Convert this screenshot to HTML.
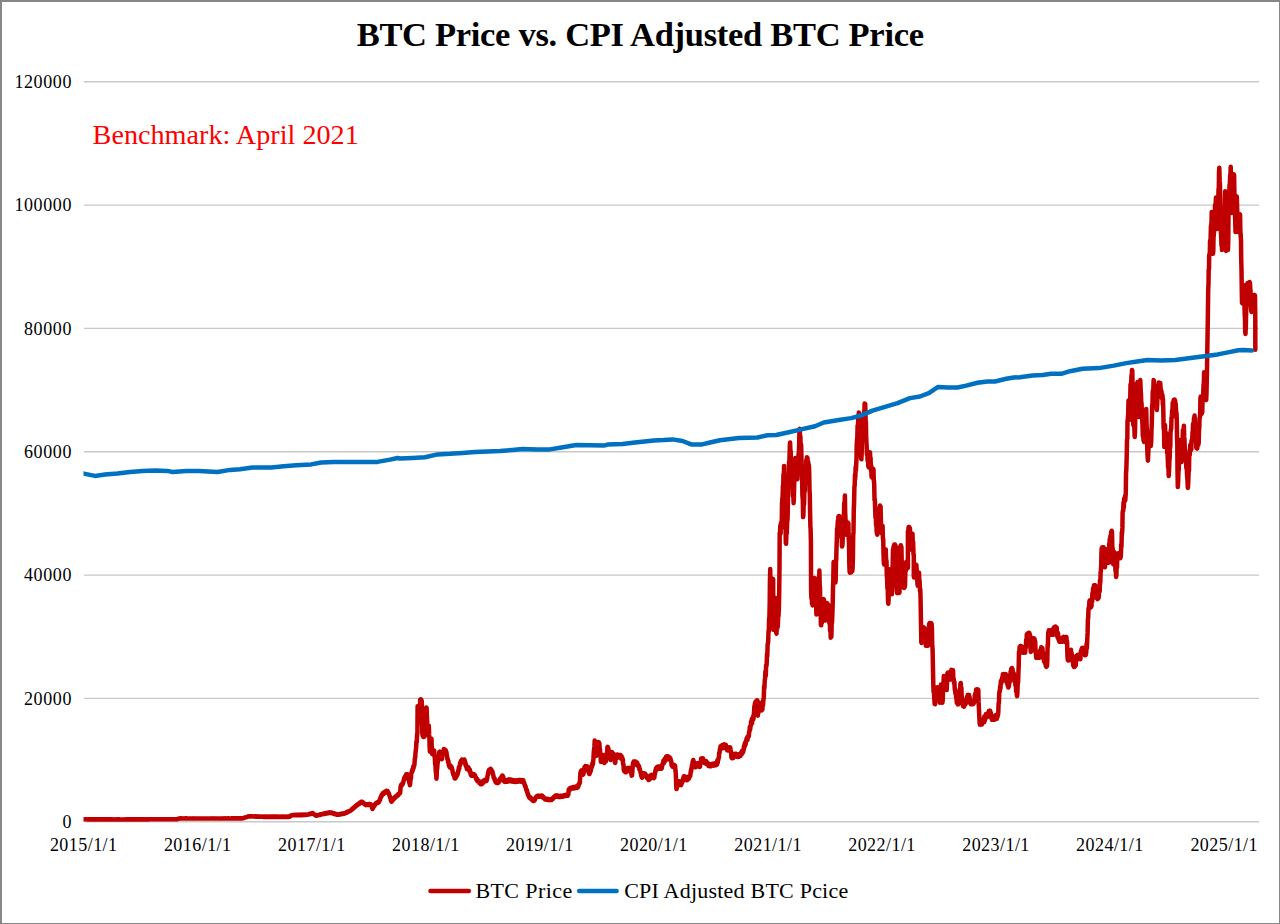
<!DOCTYPE html>
<html><head><meta charset="utf-8"><title>BTC Price vs. CPI Adjusted BTC Price</title>
<style>
html,body{margin:0;padding:0;background:#fff;}
body{width:1280px;height:924px;position:relative;overflow:hidden;font-family:"Liberation Serif",serif;}
.frame{position:absolute;left:0;top:0;width:1277px;height:921px;border-style:solid;border-color:#878787;border-width:2px 1px 1px 2px;}
</style></head><body>
<svg width="1280" height="924" viewBox="0 0 1280 924" style="position:absolute;left:0;top:0"><line x1="84" y1="81.75" x2="1259" y2="81.75" stroke="#c8c8c8" stroke-width="1.3"/><line x1="84" y1="205.08" x2="1259" y2="205.08" stroke="#c8c8c8" stroke-width="1.3"/><line x1="84" y1="328.42" x2="1259" y2="328.42" stroke="#c8c8c8" stroke-width="1.3"/><line x1="84" y1="451.75" x2="1259" y2="451.75" stroke="#c8c8c8" stroke-width="1.3"/><line x1="84" y1="575.08" x2="1259" y2="575.08" stroke="#c8c8c8" stroke-width="1.3"/><line x1="84" y1="698.42" x2="1259" y2="698.42" stroke="#c8c8c8" stroke-width="1.3"/><line x1="84" y1="821.75" x2="1259" y2="821.75" stroke="#c8c8c8" stroke-width="1.3"/><g font-family="Liberation Serif" font-size="18" fill="#000"><text x="72.0" y="87.8" text-anchor="end" letter-spacing="0.6">120000</text><text x="72.0" y="211.1" text-anchor="end" letter-spacing="0.6">100000</text><text x="72.0" y="334.5" text-anchor="end" letter-spacing="0.6">80000</text><text x="72.0" y="457.8" text-anchor="end" letter-spacing="0.6">60000</text><text x="72.0" y="581.1" text-anchor="end" letter-spacing="0.6">40000</text><text x="72.0" y="704.5" text-anchor="end" letter-spacing="0.6">20000</text><text x="72.0" y="827.8" text-anchor="end" letter-spacing="0.6">0</text><text x="83.7" y="851.3" text-anchor="middle" letter-spacing="0.45">2015/1/1</text><text x="197.7" y="851.3" text-anchor="middle" letter-spacing="0.45">2016/1/1</text><text x="311.9" y="851.3" text-anchor="middle" letter-spacing="0.45">2017/1/1</text><text x="425.9" y="851.3" text-anchor="middle" letter-spacing="0.45">2018/1/1</text><text x="539.8" y="851.3" text-anchor="middle" letter-spacing="0.45">2019/1/1</text><text x="653.8" y="851.3" text-anchor="middle" letter-spacing="0.45">2020/1/1</text><text x="768.1" y="851.3" text-anchor="middle" letter-spacing="0.45">2021/1/1</text><text x="882.0" y="851.3" text-anchor="middle" letter-spacing="0.45">2022/1/1</text><text x="996.0" y="851.3" text-anchor="middle" letter-spacing="0.45">2023/1/1</text><text x="1109.9" y="851.3" text-anchor="middle" letter-spacing="0.45">2024/1/1</text><text x="1224.2" y="851.3" text-anchor="middle" letter-spacing="0.45">2025/1/1</text></g><defs><clipPath id="pa"><rect x="83.5" y="60" width="1190" height="800"/></clipPath></defs><g clip-path="url(#pa)"><path d="M82.0,819.3 L82.3,819.3 L82.6,819.3 L82.9,819.4 L83.2,819.3 L83.6,819.3 L83.9,819.3 L84.2,819.3 L84.5,819.3 L84.8,819.3 L85.1,819.3 L85.4,819.3 L85.7,819.3 L86.0,819.3 L86.4,819.3 L86.7,819.3 L87.0,819.3 L87.3,819.4 L87.6,819.3 L87.9,819.4 L88.2,819.3 L88.5,819.4 L88.9,819.3 L89.2,819.4 L89.5,819.3 L89.8,819.3 L90.1,819.3 L90.4,819.4 L90.7,819.3 L91.0,819.4 L91.3,819.3 L91.7,819.4 L92.0,819.3 L92.3,819.4 L92.6,819.3 L92.9,819.4 L93.2,819.3 L93.5,819.4 L93.8,819.3 L94.1,819.4 L94.5,819.3 L94.8,819.4 L95.1,819.3 L95.4,819.4 L95.7,819.3 L96.0,819.4 L96.3,819.3 L96.6,819.4 L97.0,819.3 L97.3,819.4 L97.6,819.3 L97.9,819.4 L98.2,819.3 L98.5,819.4 L98.8,819.3 L99.1,819.4 L99.4,819.3 L99.8,819.4 L100.1,819.3 L100.4,819.4 L100.7,819.3 L101.0,819.4 L101.3,819.3 L101.6,819.4 L101.9,819.3 L102.2,819.4 L102.6,819.3 L102.9,819.4 L103.2,819.3 L103.5,819.4 L103.8,819.3 L104.1,819.4 L104.4,819.3 L104.7,819.4 L105.0,819.3 L105.4,819.4 L105.7,819.3 L106.0,819.4 L106.3,819.3 L106.6,819.4 L106.9,819.3 L107.2,819.4 L107.5,819.3 L107.9,819.4 L108.2,819.3 L108.5,819.4 L108.8,819.3 L109.1,819.4 L109.4,819.3 L109.7,819.4 L110.0,819.3 L110.3,819.4 L110.7,819.3 L111.0,819.4 L111.3,819.3 L111.6,819.4 L111.9,819.3 L112.2,819.4 L112.5,819.3 L112.8,819.4 L113.1,819.4 L113.5,819.4 L113.8,819.4 L114.1,819.4 L114.4,819.3 L114.7,819.4 L115.0,819.4 L115.3,819.4 L115.6,819.4 L116.0,819.4 L116.3,819.3 L116.6,819.4 L116.9,819.3 L117.2,819.4 L117.5,819.3 L117.8,819.4 L118.1,819.4 L118.4,819.4 L118.8,819.3 L119.1,819.4 L119.4,819.3 L119.7,819.4 L120.0,819.4 L120.3,819.4 L120.6,819.4 L120.9,819.4 L121.2,819.4 L121.6,819.4 L121.9,819.4 L122.2,819.4 L122.5,819.4 L122.8,819.4 L123.1,819.4 L123.4,819.4 L123.8,819.4 L124.1,819.4 L124.4,819.4 L124.7,819.4 L125.0,819.3 L125.3,819.4 L125.6,819.4 L125.9,819.4 L126.2,819.3 L126.6,819.4 L126.9,819.3 L127.2,819.4 L127.5,819.3 L127.8,819.4 L128.1,819.3 L128.4,819.4 L128.8,819.3 L129.1,819.4 L129.4,819.3 L129.7,819.4 L130.0,819.3 L130.3,819.4 L130.6,819.3 L130.9,819.4 L131.2,819.3 L131.6,819.4 L131.9,819.3 L132.2,819.4 L132.5,819.3 L132.8,819.4 L133.1,819.3 L133.4,819.4 L133.8,819.3 L134.1,819.4 L134.4,819.3 L134.7,819.4 L135.0,819.3 L135.3,819.4 L135.6,819.3 L135.9,819.4 L136.2,819.3 L136.6,819.4 L136.9,819.3 L137.2,819.4 L137.5,819.3 L137.8,819.4 L138.1,819.3 L138.4,819.4 L138.8,819.3 L139.1,819.4 L139.4,819.3 L139.7,819.4 L140.0,819.3 L140.3,819.4 L140.6,819.3 L140.9,819.4 L141.2,819.3 L141.6,819.4 L141.9,819.3 L142.2,819.4 L142.5,819.3 L142.8,819.4 L143.1,819.3 L143.4,819.4 L143.8,819.3 L144.1,819.4 L144.4,819.3 L144.7,819.4 L145.0,819.3 L145.3,819.4 L145.6,819.3 L145.9,819.4 L146.2,819.3 L146.6,819.4 L146.9,819.3 L147.2,819.4 L147.5,819.3 L147.8,819.4 L148.1,819.3 L148.4,819.3 L148.8,819.3 L149.1,819.4 L149.4,819.3 L149.7,819.3 L150.0,819.3 L150.3,819.3 L150.6,819.3 L150.9,819.3 L151.3,819.2 L151.6,819.3 L151.9,819.2 L152.2,819.3 L152.5,819.2 L152.8,819.3 L153.1,819.2 L153.5,819.3 L153.8,819.3 L154.1,819.3 L154.4,819.2 L154.7,819.3 L155.0,819.2 L155.3,819.3 L155.7,819.2 L156.0,819.3 L156.3,819.2 L156.6,819.3 L156.9,819.2 L157.2,819.3 L157.5,819.2 L157.8,819.3 L158.2,819.2 L158.5,819.3 L158.8,819.2 L159.1,819.3 L159.4,819.2 L159.7,819.3 L160.0,819.2 L160.4,819.3 L160.7,819.2 L161.0,819.3 L161.3,819.2 L161.6,819.3 L161.9,819.2 L162.2,819.3 L162.6,819.2 L162.9,819.3 L163.2,819.2 L163.5,819.3 L163.8,819.2 L164.1,819.3 L164.4,819.2 L164.8,819.3 L165.1,819.2 L165.4,819.3 L165.7,819.2 L166.0,819.3 L166.3,819.2 L166.6,819.3 L167.0,819.2 L167.3,819.3 L167.6,819.2 L167.9,819.3 L168.2,819.2 L168.5,819.3 L168.8,819.2 L169.2,819.3 L169.5,819.2 L169.8,819.3 L170.1,819.2 L170.4,819.3 L170.7,819.2 L171.0,819.3 L171.3,819.2 L171.7,819.3 L172.0,819.2 L172.3,819.3 L172.6,819.2 L172.9,819.3 L173.2,819.2 L173.5,819.3 L173.9,819.2 L174.2,819.2 L174.5,819.2 L174.8,819.2 L175.1,819.2 L175.4,819.2 L175.7,819.2 L176.1,819.3 L176.4,819.2 L176.7,819.2 L177.0,819.2 L177.3,819.2 L177.6,818.9 L177.9,818.9 L178.2,818.7 L178.6,818.8 L178.9,818.6 L179.2,818.6 L179.5,818.4 L179.8,818.5 L180.1,818.3 L180.4,818.5 L180.8,818.3 L181.1,818.4 L181.4,818.3 L181.7,818.5 L182.0,818.4 L182.3,818.4 L182.7,818.4 L183.0,818.5 L183.3,818.4 L183.6,818.5 L183.9,818.3 L184.2,818.4 L184.5,818.4 L184.9,818.5 L185.2,818.3 L185.5,818.4 L185.8,818.3 L186.1,818.5 L186.4,818.3 L186.8,818.4 L187.1,818.4 L187.4,818.4 L187.7,818.4 L188.0,818.5 L188.3,818.4 L188.6,818.5 L189.0,818.4 L189.3,818.5 L189.6,818.4 L189.9,818.5 L190.2,818.4 L190.5,818.5 L190.9,818.4 L191.2,818.5 L191.5,818.4 L191.8,818.5 L192.1,818.4 L192.4,818.5 L192.7,818.5 L193.1,818.6 L193.4,818.4 L193.7,818.6 L194.0,818.5 L194.3,818.6 L194.6,818.5 L195.0,818.6 L195.3,818.5 L195.6,818.6 L195.9,818.5 L196.2,818.6 L196.5,818.5 L196.8,818.6 L197.2,818.5 L197.5,818.6 L197.8,818.5 L198.1,818.6 L198.4,818.5 L198.7,818.6 L199.1,818.5 L199.4,818.6 L199.7,818.5 L200.0,818.6 L200.3,818.6 L200.6,818.5 L200.9,818.6 L201.2,818.5 L201.6,818.6 L201.9,818.5 L202.2,818.6 L202.5,818.5 L202.8,818.6 L203.1,818.5 L203.4,818.6 L203.7,818.5 L204.1,818.6 L204.4,818.5 L204.7,818.6 L205.0,818.5 L205.3,818.6 L205.6,818.5 L205.9,818.6 L206.2,818.5 L206.5,818.6 L206.9,818.5 L207.2,818.6 L207.5,818.5 L207.8,818.6 L208.1,818.5 L208.4,818.6 L208.7,818.5 L209.0,818.6 L209.4,818.5 L209.7,818.6 L210.0,818.5 L210.3,818.6 L210.6,818.5 L210.9,818.6 L211.2,818.4 L211.5,818.6 L211.8,818.5 L212.2,818.6 L212.5,818.5 L212.8,818.6 L213.1,818.5 L213.4,818.6 L213.7,818.5 L214.0,818.6 L214.3,818.4 L214.6,818.6 L215.0,818.5 L215.3,818.6 L215.6,818.4 L215.9,818.5 L216.2,818.5 L216.5,818.5 L216.8,818.4 L217.1,818.5 L217.5,818.4 L217.8,818.5 L218.1,818.4 L218.4,818.5 L218.7,818.4 L219.0,818.5 L219.3,818.4 L219.6,818.5 L219.9,818.4 L220.3,818.5 L220.6,818.4 L220.9,818.5 L221.2,818.4 L221.5,818.5 L221.8,818.4 L222.1,818.5 L222.4,818.4 L222.8,818.5 L223.1,818.3 L223.4,818.5 L223.7,818.4 L224.0,818.5 L224.3,818.4 L224.6,818.5 L224.9,818.3 L225.2,818.5 L225.6,818.3 L225.9,818.5 L226.2,818.4 L226.5,818.5 L226.8,818.4 L227.1,818.5 L227.4,818.3 L227.7,818.5 L228.1,818.3 L228.4,818.5 L228.7,818.3 L229.0,818.5 L229.3,818.4 L229.6,818.4 L229.9,818.4 L230.2,818.4 L230.5,818.4 L230.9,818.5 L231.2,818.3 L231.5,818.4 L231.8,818.3 L232.1,818.4 L232.4,818.3 L232.7,818.4 L233.0,818.3 L233.3,818.4 L233.7,818.3 L234.0,818.4 L234.3,818.3 L234.6,818.4 L234.9,818.3 L235.2,818.4 L235.5,818.3 L235.8,818.4 L236.2,818.3 L236.5,818.4 L236.8,818.3 L237.1,818.4 L237.4,818.3 L237.7,818.4 L238.0,818.3 L238.3,818.4 L238.6,818.3 L239.0,818.4 L239.3,818.3 L239.6,818.4 L239.9,818.3 L240.2,818.4 L240.5,818.3 L240.8,818.4 L241.1,818.3 L241.5,818.3 L241.8,818.3 L242.1,818.4 L242.4,818.3 L242.7,818.3 L243.0,818.3 L243.3,818.0 L243.6,818.1 L243.9,817.8 L244.2,817.9 L244.5,817.6 L244.8,817.6 L245.1,817.4 L245.4,817.5 L245.8,817.2 L246.1,817.3 L246.4,817.1 L246.7,817.1 L247.0,816.8 L247.3,816.9 L247.6,816.6 L247.9,816.7 L248.2,816.4 L248.5,816.5 L248.8,816.3 L249.1,816.4 L249.4,816.3 L249.7,816.4 L250.1,816.3 L250.4,816.5 L250.7,816.3 L251.0,816.5 L251.3,816.3 L251.6,816.5 L252.0,816.3 L252.3,816.5 L252.6,816.3 L252.9,816.5 L253.2,816.4 L253.5,816.5 L253.8,816.4 L254.2,816.6 L254.5,816.4 L254.8,816.6 L255.1,816.4 L255.4,816.6 L255.7,816.4 L256.1,816.6 L256.4,816.4 L256.7,816.7 L257.0,816.5 L257.3,816.7 L257.6,816.5 L258.0,816.8 L258.3,816.6 L258.6,816.7 L258.9,816.6 L259.2,816.8 L259.5,816.6 L259.8,816.8 L260.2,816.6 L260.5,816.8 L260.8,816.7 L261.1,816.8 L261.4,816.6 L261.7,816.8 L262.1,816.6 L262.4,816.8 L262.7,816.7 L263.0,816.8 L263.3,816.9 L263.6,816.7 L263.9,816.9 L264.2,816.7 L264.6,816.9 L264.9,816.7 L265.2,816.9 L265.5,816.7 L265.8,816.9 L266.1,816.7 L266.4,816.9 L266.7,816.8 L267.0,816.9 L267.3,816.7 L267.7,816.9 L268.0,816.7 L268.3,816.9 L268.6,816.8 L268.9,816.9 L269.2,816.7 L269.5,816.9 L269.8,816.7 L270.1,816.9 L270.5,816.7 L270.8,816.9 L271.1,816.7 L271.4,816.9 L271.7,816.7 L272.0,816.9 L272.3,816.7 L272.6,816.9 L272.9,816.7 L273.2,816.9 L273.6,816.7 L273.9,816.9 L274.2,816.7 L274.5,816.9 L274.8,816.7 L275.1,816.9 L275.4,816.7 L275.7,816.9 L276.0,816.7 L276.4,816.9 L276.7,816.7 L277.0,816.9 L277.3,816.7 L277.6,816.9 L277.9,816.7 L278.2,816.9 L278.5,816.7 L278.8,816.9 L279.2,816.7 L279.5,816.9 L279.8,816.7 L280.1,816.8 L280.4,816.7 L280.7,816.9 L281.0,816.7 L281.3,816.9 L281.6,816.7 L281.9,816.9 L282.3,816.7 L282.6,816.9 L282.9,816.7 L283.2,816.9 L283.5,816.7 L283.8,816.9 L284.1,816.7 L284.4,816.9 L284.7,816.8 L285.1,816.8 L285.4,816.7 L285.7,816.9 L286.0,816.7 L286.3,816.9 L286.6,816.8 L286.9,816.9 L287.2,816.7 L287.5,816.9 L287.8,816.7 L288.2,816.9 L288.5,816.7 L288.8,816.9 L289.1,816.7 L289.4,816.8 L289.7,816.6 L290.1,816.1 L290.4,816.2 L290.7,815.6 L291.1,815.6 L291.4,815.2 L291.7,815.2 L292.0,815.1 L292.3,815.2 L292.7,815.1 L293.0,815.2 L293.3,815.1 L293.6,815.2 L293.9,815.0 L294.2,815.2 L294.5,815.0 L294.8,815.2 L295.2,814.9 L295.5,815.2 L295.8,815.0 L296.1,815.1 L296.4,814.9 L296.7,815.2 L297.0,814.9 L297.4,815.1 L297.7,814.9 L298.0,815.1 L298.3,814.9 L298.6,815.1 L298.9,814.8 L299.2,815.1 L299.5,814.8 L299.9,815.1 L300.2,814.8 L300.5,815.0 L300.8,814.7 L301.1,815.1 L301.4,814.8 L301.7,814.9 L302.1,814.7 L302.4,815.0 L302.7,814.7 L303.0,814.9 L303.3,814.7 L303.6,815.0 L303.9,814.7 L304.3,814.9 L304.6,814.7 L304.9,814.9 L305.2,814.7 L305.5,814.9 L305.8,814.7 L306.1,814.9 L306.4,814.7 L306.8,814.8 L307.1,814.7 L307.4,814.8 L307.7,814.7 L308.0,814.7 L308.3,814.4 L308.6,814.5 L308.9,814.1 L309.3,814.3 L309.6,813.9 L309.9,814.2 L310.2,813.9 L310.5,814.0 L310.8,813.6 L311.1,813.8 L311.4,813.3 L311.8,813.6 L312.1,813.2 L312.4,813.4 L312.7,813.2 L313.0,813.7 L313.3,813.6 L313.6,814.0 L313.9,814.1 L314.2,814.6 L314.6,814.5 L314.9,815.1 L315.2,815.0 L315.5,815.6 L315.8,815.7 L316.1,815.7 L316.4,815.5 L316.7,815.6 L317.0,815.2 L317.3,815.5 L317.6,815.2 L317.9,815.3 L318.2,815.0 L318.5,815.1 L318.9,814.8 L319.2,815.0 L319.5,814.7 L319.8,814.8 L320.1,814.5 L320.4,814.8 L320.7,814.4 L321.0,814.6 L321.3,814.3 L321.6,814.4 L321.9,814.2 L322.2,814.2 L322.5,813.9 L322.8,814.2 L323.1,813.9 L323.4,814.0 L323.7,813.7 L324.0,814.0 L324.4,813.6 L324.7,813.8 L325.0,813.4 L325.3,813.6 L325.6,813.3 L325.9,813.6 L326.2,813.1 L326.5,813.4 L326.8,813.1 L327.1,813.3 L327.4,812.9 L327.7,813.2 L328.0,812.8 L328.4,813.2 L328.7,812.7 L329.0,812.9 L329.3,812.5 L329.6,812.9 L329.9,812.5 L330.2,812.8 L330.5,812.5 L330.8,812.7 L331.1,812.6 L331.4,812.9 L331.8,812.7 L332.1,813.2 L332.4,812.9 L332.7,813.4 L333.0,813.2 L333.3,813.5 L333.6,813.3 L333.9,813.8 L334.3,813.4 L334.6,813.9 L334.9,813.7 L335.2,814.1 L335.5,813.9 L335.8,814.3 L336.1,814.1 L336.4,814.5 L336.8,814.2 L337.1,814.7 L337.4,814.4 L337.7,814.7 L338.0,814.7 L338.3,814.5 L338.7,814.6 L339.0,814.3 L339.3,814.6 L339.6,814.3 L339.9,814.4 L340.2,814.0 L340.6,814.3 L340.9,814.0 L341.2,814.1 L341.5,813.8 L341.8,814.0 L342.1,813.6 L342.5,814.0 L342.8,813.5 L343.1,813.8 L343.4,813.5 L343.7,813.6 L344.0,813.3 L344.4,813.6 L344.7,813.3 L345.0,813.3 L345.3,813.3 L345.6,812.8 L345.9,813.0 L346.2,812.5 L346.5,812.8 L346.8,812.1 L347.1,812.4 L347.4,812.0 L347.7,812.2 L348.1,811.6 L348.4,811.8 L348.7,811.3 L349.0,811.6 L349.3,811.0 L349.6,811.2 L349.9,810.7 L350.2,810.8 L350.5,810.4 L350.8,810.4 L351.1,810.4 L351.4,809.7 L351.8,809.8 L352.1,808.9 L352.4,809.3 L352.7,808.6 L353.0,808.8 L353.4,807.9 L353.7,808.3 L354.0,807.5 L354.3,807.6 L354.6,806.7 L354.9,807.2 L355.3,806.1 L355.6,806.4 L355.9,806.0 L356.2,806.0 L356.5,805.4 L356.8,805.5 L357.1,804.6 L357.4,805.2 L357.7,804.2 L358.0,804.7 L358.3,803.7 L358.6,804.3 L359.0,803.5 L359.3,804.0 L359.6,802.8 L359.9,803.3 L360.2,802.4 L360.5,803.0 L360.8,802.1 L361.1,802.5 L361.4,801.7 L361.7,801.7 L362.0,802.2 L362.3,801.9 L362.6,802.8 L362.9,802.2 L363.2,803.2 L363.5,803.0 L363.8,803.7 L364.1,803.2 L364.4,804.1 L364.7,803.8 L365.0,804.6 L365.3,804.6 L365.6,805.0 L365.9,804.3 L366.2,804.8 L366.5,804.4 L366.8,804.9 L367.1,804.3 L367.4,805.0 L367.7,804.4 L368.0,804.8 L368.4,804.2 L368.7,804.9 L369.0,804.3 L369.3,804.9 L369.6,804.2 L369.9,804.9 L370.2,804.2 L370.5,804.9 L370.8,804.3 L371.1,804.6 L371.5,806.1 L371.8,806.3 L372.1,808.1 L372.5,808.9 L372.8,808.5 L373.1,807.4 L373.5,807.4 L373.8,806.5 L374.1,806.5 L374.4,805.2 L374.8,805.4 L375.1,804.1 L375.4,803.8 L375.7,803.9 L376.0,803.1 L376.3,803.5 L376.6,802.9 L376.9,803.3 L377.2,802.3 L377.6,803.1 L377.9,802.2 L378.2,802.7 L378.5,801.7 L378.8,802.3 L379.1,801.7 L379.4,801.1 L379.7,799.8 L380.1,799.7 L380.4,797.8 L380.7,797.9 L381.0,796.4 L381.4,796.7 L381.7,794.4 L382.0,794.4 L382.3,794.5 L382.6,793.6 L382.9,794.5 L383.2,792.7 L383.6,793.8 L383.9,792.8 L384.2,793.6 L384.5,792.1 L384.8,793.2 L385.1,791.5 L385.4,792.7 L385.8,791.3 L386.1,792.2 L386.4,790.8 L386.7,791.6 L387.0,790.8 L387.3,792.1 L387.6,791.0 L387.9,792.7 L388.3,792.5 L388.6,793.9 L388.9,793.3 L389.2,794.4 L389.5,795.9 L389.8,796.2 L390.1,797.9 L390.5,798.0 L390.8,800.2 L391.1,800.5 L391.4,801.7 L391.7,801.7 L392.0,800.4 L392.4,800.7 L392.7,799.5 L393.0,799.9 L393.3,798.8 L393.7,799.3 L394.0,797.9 L394.3,798.0 L394.6,798.1 L394.9,797.0 L395.2,797.7 L395.5,796.5 L395.8,797.3 L396.1,796.0 L396.4,796.6 L396.7,795.7 L397.0,796.2 L397.4,794.9 L397.7,795.5 L398.0,794.2 L398.3,795.3 L398.6,793.8 L398.9,794.4 L399.2,793.3 L399.5,793.8 L399.8,792.9 L400.1,793.0 L400.4,790.3 L400.6,786.4 L400.9,786.3 L401.2,784.8 L401.5,785.8 L401.8,784.2 L402.1,785.0 L402.4,783.3 L402.7,784.2 L403.0,782.8 L403.3,782.8 L403.7,779.9 L404.0,780.1 L404.3,777.8 L404.7,778.4 L405.0,776.6 L405.3,776.8 L405.6,775.6 L405.9,776.8 L406.2,774.2 L406.5,776.5 L406.8,774.2 L407.1,775.5 L407.4,774.2 L407.7,774.4 L408.0,776.8 L408.3,776.2 L408.6,780.2 L409.0,780.1 L409.3,783.1 L409.6,782.6 L409.9,785.2 L410.2,783.0 L410.5,779.4 L410.9,778.6 L411.2,774.3 L411.5,772.3 L411.8,772.5 L412.1,770.1 L412.4,771.5 L412.7,768.8 L413.0,769.7 L413.3,766.5 L413.6,768.0 L413.9,765.7 L414.2,765.8 L414.5,763.9 L414.8,758.8 L415.2,757.3 L415.5,752.8 L415.8,750.6 L416.1,748.1 L416.4,741.4 L416.8,742.1 L417.1,734.4 L417.4,733.3 L417.6,706.2 L417.9,710.9 L418.2,709.9 L418.5,717.2 L418.8,717.2 L419.1,722.5 L419.4,719.1 L419.6,709.3 L419.9,708.6 L420.2,699.7 L420.5,702.4 L420.8,699.2 L421.2,702.4 L421.5,700.1 L421.8,701.9 L422.1,720.7 L422.3,733.3 L422.6,735.7 L422.9,732.9 L423.2,736.9 L423.6,733.9 L423.9,736.9 L424.2,734.2 L424.5,736.5 L424.8,728.4 L425.0,717.1 L425.3,717.6 L425.6,711.4 L426.0,713.0 L426.3,707.4 L426.6,707.9 L426.9,715.9 L427.1,719.1 L427.4,729.9 L427.7,735.5 L428.0,735.0 L428.2,727.9 L428.5,730.1 L428.8,725.7 L429.1,734.2 L429.4,737.4 L429.6,745.9 L429.9,751.7 L430.2,749.8 L430.5,745.6 L430.9,745.6 L431.2,739.9 L431.5,738.7 L431.8,747.8 L432.1,753.9 L432.4,754.2 L432.7,752.2 L433.0,753.4 L433.3,750.4 L433.6,752.2 L433.9,750.4 L434.2,750.6 L434.5,755.7 L434.8,757.9 L435.1,763.6 L435.5,765.9 L435.8,771.8 L436.1,773.7 L436.4,778.7 L436.7,775.5 L436.9,770.0 L437.2,768.4 L437.5,763.6 L437.8,762.6 L438.1,758.4 L438.4,759.4 L438.7,756.0 L439.0,755.8 L439.3,751.9 L439.6,751.7 L439.9,754.7 L440.2,752.2 L440.5,756.1 L440.9,755.1 L441.2,757.7 L441.5,756.8 L441.8,759.3 L442.1,758.5 L442.5,754.0 L442.9,754.5 L443.2,750.8 L443.5,752.0 L443.9,749.1 L444.2,752.0 L444.5,749.5 L444.8,752.0 L445.1,749.7 L445.5,751.8 L445.8,750.3 L446.1,753.0 L446.5,752.3 L446.8,755.4 L447.1,756.2 L447.4,759.4 L447.8,758.9 L448.1,762.3 L448.4,761.0 L448.8,765.1 L449.1,766.0 L449.4,766.9 L449.8,765.5 L450.1,767.6 L450.4,765.5 L450.7,767.8 L451.1,766.3 L451.4,767.8 L451.7,767.3 L452.0,769.4 L452.4,769.4 L452.7,772.6 L453.0,772.5 L453.3,774.7 L453.6,773.3 L453.9,775.8 L454.3,775.2 L454.6,778.4 L454.9,778.3 L455.2,778.5 L455.5,776.2 L455.9,777.7 L456.2,775.7 L456.5,776.4 L456.9,774.7 L457.2,775.3 L457.5,774.4 L457.8,773.8 L458.2,770.4 L458.5,771.4 L458.8,767.4 L459.2,768.7 L459.5,766.0 L459.8,766.0 L460.1,763.1 L460.4,764.5 L460.8,761.0 L461.1,762.9 L461.4,760.8 L461.7,761.7 L462.0,759.5 L462.3,762.1 L462.6,760.0 L462.9,762.1 L463.2,760.2 L463.5,761.7 L463.8,760.0 L464.1,762.1 L464.4,759.5 L464.7,760.8 L465.0,763.4 L465.3,762.0 L465.6,765.6 L466.0,764.2 L466.3,767.0 L466.6,767.3 L466.9,769.1 L467.2,767.1 L467.6,769.3 L467.9,767.1 L468.2,769.4 L468.6,767.7 L468.9,769.4 L469.2,769.2 L469.5,771.4 L469.9,769.8 L470.2,773.0 L470.5,772.0 L470.9,775.1 L471.2,775.1 L471.5,775.7 L471.8,774.3 L472.2,775.7 L472.5,774.3 L472.8,775.7 L473.1,774.1 L473.4,775.1 L473.8,774.0 L474.1,775.7 L474.4,774.4 L474.7,775.9 L475.1,775.4 L475.4,777.1 L475.7,777.0 L476.1,779.2 L476.4,779.0 L476.7,780.3 L477.0,778.8 L477.4,781.0 L477.7,779.9 L478.0,781.5 L478.4,780.3 L478.7,781.8 L479.0,781.6 L479.3,783.0 L479.6,781.4 L480.0,783.0 L480.3,781.8 L480.6,784.3 L481.0,782.5 L481.3,784.3 L481.6,784.2 L481.9,784.2 L482.2,782.8 L482.6,783.1 L482.9,781.2 L483.2,782.8 L483.6,780.4 L483.9,781.9 L484.2,780.3 L484.5,781.2 L484.9,779.7 L485.2,780.8 L485.5,779.8 L485.8,781.2 L486.1,779.8 L486.5,780.9 L486.8,780.3 L487.1,779.1 L487.5,776.0 L487.8,775.1 L488.1,772.5 L488.4,772.7 L488.7,770.2 L489.1,771.7 L489.4,769.5 L489.7,771.3 L490.0,769.2 L490.3,770.4 L490.6,768.8 L490.9,770.9 L491.3,769.6 L491.6,770.9 L491.9,770.5 L492.2,772.6 L492.6,771.7 L492.9,774.9 L493.2,774.2 L493.6,777.4 L493.9,777.7 L494.2,779.0 L494.5,778.1 L494.9,780.4 L495.2,779.6 L495.5,782.0 L495.8,782.2 L496.1,782.6 L496.4,781.7 L496.8,783.0 L497.1,781.4 L497.4,782.6 L497.8,781.4 L498.1,783.0 L498.4,782.2 L498.7,782.4 L499.0,780.6 L499.4,781.3 L499.7,779.3 L500.0,780.5 L500.4,778.2 L500.7,779.5 L501.0,777.7 L501.3,777.9 L501.7,776.3 L502.0,777.6 L502.4,775.5 L502.7,775.7 L503.0,777.4 L503.3,777.1 L503.7,779.7 L504.0,779.4 L504.3,781.6 L504.6,781.8 L504.9,780.4 L505.3,781.8 L505.6,780.5 L505.9,781.8 L506.2,780.2 L506.6,781.8 L506.9,780.3 L507.2,781.8 L507.6,780.1 L507.9,781.0 L508.2,780.3 L508.5,780.9 L508.8,779.4 L509.2,781.1 L509.5,779.6 L509.8,781.2 L510.1,779.7 L510.4,781.1 L510.8,779.5 L511.1,781.2 L511.4,780.3 L511.7,781.4 L512.0,780.1 L512.3,781.3 L512.6,780.1 L512.9,781.4 L513.2,780.1 L513.5,781.8 L513.8,780.3 L514.1,781.8 L514.4,780.8 L514.7,781.6 L515.0,781.9 L515.3,780.6 L515.6,781.8 L515.9,780.5 L516.2,781.9 L516.5,780.5 L516.8,781.5 L517.1,780.3 L517.4,781.8 L517.7,780.2 L518.0,781.2 L518.3,780.6 L518.6,781.1 L518.9,780.1 L519.2,781.4 L519.5,780.0 L519.8,781.3 L520.1,780.2 L520.4,781.4 L520.7,780.0 L521.1,781.8 L521.4,780.5 L521.7,781.8 L522.0,780.6 L522.3,781.7 L522.6,780.1 L522.9,781.7 L523.2,780.2 L523.5,781.2 L523.8,782.9 L524.1,782.6 L524.5,784.9 L524.8,784.5 L525.1,786.4 L525.5,786.2 L525.8,788.1 L526.1,788.7 L526.4,790.2 L526.8,789.9 L527.1,792.3 L527.4,792.0 L527.7,794.2 L528.1,794.0 L528.4,795.8 L528.7,796.5 L529.0,797.3 L529.3,796.6 L529.6,797.9 L529.9,796.9 L530.2,798.3 L530.5,797.6 L530.8,798.9 L531.1,798.2 L531.5,799.2 L531.8,798.6 L532.1,800.0 L532.4,799.1 L532.7,800.5 L533.0,799.6 L533.3,801.0 L533.6,800.3 L533.9,801.0 L534.2,800.8 L534.5,799.5 L534.9,799.8 L535.2,798.5 L535.5,798.6 L535.9,797.0 L536.2,797.6 L536.5,796.5 L536.8,796.8 L537.1,796.1 L537.5,796.8 L537.8,795.9 L538.1,796.8 L538.4,795.9 L538.7,796.8 L539.0,795.7 L539.4,796.6 L539.7,795.7 L540.0,796.8 L540.3,795.7 L540.6,796.6 L540.9,795.7 L541.3,796.3 L541.6,795.7 L541.9,796.0 L542.2,796.6 L542.5,795.9 L542.8,797.6 L543.1,796.7 L543.4,797.7 L543.7,797.2 L544.0,798.5 L544.3,797.8 L544.6,799.0 L544.9,798.9 L545.2,799.5 L545.5,798.8 L545.8,799.5 L546.2,798.8 L546.5,799.8 L546.8,798.9 L547.1,799.8 L547.4,798.9 L547.7,799.9 L548.0,799.1 L548.4,800.0 L548.7,799.1 L549.0,799.8 L549.3,799.3 L549.6,800.0 L549.9,799.5 L550.3,800.0 L550.6,799.4 L550.9,800.0 L551.2,799.9 L551.5,800.0 L551.8,799.0 L552.1,799.4 L552.4,798.2 L552.7,799.2 L553.0,797.8 L553.3,798.3 L553.7,797.1 L554.0,797.8 L554.3,796.8 L554.6,797.2 L554.9,796.0 L555.2,797.0 L555.5,795.5 L555.8,796.3 L556.1,795.5 L556.4,796.2 L556.7,795.4 L557.0,796.6 L557.3,795.6 L557.6,796.7 L558.0,795.6 L558.3,797.0 L558.6,796.0 L558.9,797.0 L559.2,796.3 L559.5,796.9 L559.8,797.0 L560.1,796.1 L560.4,797.0 L560.7,795.9 L561.0,796.9 L561.3,796.0 L561.6,796.7 L561.9,795.9 L562.2,796.6 L562.6,795.9 L562.9,796.7 L563.2,795.6 L563.5,796.3 L563.8,795.5 L564.1,796.3 L564.4,795.4 L564.7,796.2 L565.0,795.4 L565.3,795.5 L565.6,795.8 L565.9,794.7 L566.3,795.8 L566.6,795.0 L566.9,795.8 L567.2,794.7 L567.6,795.8 L567.9,794.7 L568.2,795.0 L568.5,793.1 L568.7,789.6 L569.0,789.7 L569.3,788.9 L569.6,789.4 L570.0,788.1 L570.3,789.5 L570.6,788.1 L570.9,788.7 L571.2,788.2 L571.5,788.4 L571.9,787.6 L572.2,788.4 L572.5,787.3 L572.8,788.2 L573.2,787.0 L573.5,788.4 L573.8,787.1 L574.1,788.4 L574.5,787.0 L574.8,788.2 L575.1,787.2 L575.4,787.9 L575.7,786.5 L576.0,787.9 L576.3,786.5 L576.6,787.7 L576.9,786.5 L577.2,787.9 L577.5,787.2 L577.8,787.4 L578.1,785.3 L578.4,786.4 L578.7,784.0 L579.0,784.7 L579.3,783.0 L579.6,783.4 L579.9,782.3 L580.1,778.3 L580.4,772.6 L580.7,772.7 L581.0,770.9 L581.3,772.0 L581.6,770.4 L581.9,770.6 L582.2,772.5 L582.6,771.6 L582.9,774.7 L583.3,774.5 L583.6,773.4 L583.9,770.1 L584.2,770.9 L584.5,767.2 L584.8,766.8 L585.1,768.2 L585.4,766.1 L585.8,768.0 L586.1,766.2 L586.4,768.4 L586.7,766.8 L587.1,768.4 L587.4,766.4 L587.7,767.7 L588.0,769.5 L588.3,769.1 L588.6,772.7 L588.9,771.4 L589.2,774.1 L589.5,774.0 L589.8,770.8 L590.2,772.4 L590.5,769.5 L590.8,771.0 L591.1,768.7 L591.4,768.1 L591.8,765.1 L592.1,766.5 L592.4,763.2 L592.8,764.6 L593.1,761.9 L593.4,758.7 L593.8,752.1 L594.1,749.2 L594.4,746.4 L594.7,740.5 L595.0,746.3 L595.4,747.3 L595.7,753.4 L596.0,756.0 L596.3,754.7 L596.6,749.5 L596.9,750.4 L597.2,744.8 L597.5,743.4 L597.8,744.9 L598.1,742.0 L598.5,744.9 L598.8,742.3 L599.1,744.9 L599.4,743.4 L599.7,749.3 L600.0,749.2 L600.3,756.2 L600.6,757.2 L600.9,761.9 L601.2,761.7 L601.5,758.7 L601.8,759.8 L602.2,755.9 L602.5,757.9 L602.8,755.1 L603.1,757.3 L603.4,756.7 L603.7,761.5 L604.0,760.1 L604.3,762.9 L604.6,762.8 L604.9,760.7 L605.2,761.5 L605.6,759.5 L605.9,761.4 L606.2,759.0 L606.5,758.0 L606.8,752.6 L607.1,753.5 L607.4,747.2 L607.7,746.8 L608.0,749.8 L608.3,748.0 L608.7,752.5 L609.0,750.7 L609.3,755.2 L609.6,755.1 L609.9,758.2 L610.3,757.4 L610.6,759.9 L610.9,759.8 L611.2,755.6 L611.5,756.9 L611.8,752.9 L612.1,752.1 L612.4,753.8 L612.7,753.1 L613.0,756.2 L613.4,753.5 L613.7,757.3 L614.0,757.0 L614.3,760.0 L614.7,759.3 L615.0,762.9 L615.3,762.9 L615.6,758.5 L615.9,759.1 L616.2,755.7 L616.5,755.1 L616.9,756.5 L617.2,754.5 L617.5,756.9 L617.9,756.0 L618.2,757.5 L618.5,754.9 L618.9,756.8 L619.2,754.9 L619.5,756.9 L619.8,755.6 L620.2,757.6 L620.5,755.1 L620.8,756.5 L621.1,758.7 L621.5,756.2 L621.8,758.3 L622.1,757.1 L622.5,759.3 L622.8,759.0 L623.1,764.3 L623.5,764.5 L623.8,769.7 L624.1,771.1 L624.4,769.6 L624.8,771.5 L625.1,770.2 L625.4,772.3 L625.7,772.1 L626.0,772.2 L626.3,770.7 L626.6,771.1 L626.9,769.0 L627.2,770.3 L627.5,768.0 L627.8,769.3 L628.1,768.2 L628.4,769.9 L628.8,768.1 L629.1,769.4 L629.4,767.9 L629.8,770.0 L630.1,769.7 L630.4,771.9 L630.7,771.0 L631.0,773.1 L631.4,772.4 L631.7,775.7 L632.0,775.5 L632.3,772.7 L632.7,765.8 L633.0,762.9 L633.3,763.5 L633.6,761.5 L634.0,763.9 L634.3,761.6 L634.6,763.9 L634.9,761.7 L635.3,763.9 L635.6,761.4 L635.9,762.4 L636.2,763.4 L636.5,762.7 L636.8,765.0 L637.1,762.6 L637.5,765.1 L637.8,764.1 L638.1,766.1 L638.4,765.8 L638.7,767.3 L639.0,765.9 L639.3,769.2 L639.7,768.5 L640.0,770.7 L640.3,770.6 L640.6,773.0 L640.9,772.5 L641.2,775.8 L641.5,775.6 L641.8,777.5 L642.1,777.7 L642.5,774.8 L642.9,775.6 L643.2,773.6 L643.5,774.9 L643.8,773.4 L644.1,775.0 L644.4,773.4 L644.7,775.7 L645.0,773.5 L645.3,775.7 L645.6,774.4 L645.9,775.7 L646.2,775.5 L646.5,777.3 L646.8,775.4 L647.2,778.1 L647.5,776.8 L647.8,778.9 L648.1,777.2 L648.5,780.0 L648.8,778.5 L649.1,779.9 L649.4,779.7 L649.7,777.5 L650.0,778.7 L650.4,775.9 L650.7,776.9 L651.0,775.0 L651.3,776.3 L651.6,774.8 L651.9,777.1 L652.2,775.5 L652.5,776.9 L652.8,776.2 L653.1,777.9 L653.4,776.5 L653.7,778.2 L654.0,778.0 L654.4,777.4 L654.7,773.8 L655.0,773.7 L655.4,770.6 L655.7,770.8 L656.0,768.2 L656.3,770.2 L656.7,767.8 L657.0,769.5 L657.3,766.8 L657.6,767.0 L657.9,768.4 L658.2,766.5 L658.6,768.2 L658.9,766.9 L659.2,768.7 L659.5,766.5 L659.9,768.5 L660.2,766.5 L660.5,768.8 L660.9,767.3 L661.2,768.8 L661.5,768.3 L661.8,768.3 L662.1,764.7 L662.5,765.2 L662.8,763.1 L663.1,763.4 L663.4,760.7 L663.8,763.2 L664.1,760.1 L664.4,761.4 L664.7,758.7 L665.0,761.4 L665.4,758.5 L665.7,760.2 L666.0,756.7 L666.3,759.7 L666.7,756.3 L667.0,758.3 L667.3,756.6 L667.6,758.2 L667.9,756.3 L668.2,758.1 L668.5,756.7 L668.8,759.3 L669.1,757.0 L669.4,759.5 L669.7,757.4 L670.0,759.5 L670.3,758.2 L670.6,759.2 L670.9,761.4 L671.2,760.7 L671.6,765.0 L671.9,765.7 L672.2,766.3 L672.5,764.5 L672.9,766.9 L673.2,765.0 L673.5,766.9 L673.8,764.8 L674.1,766.8 L674.5,765.2 L674.8,766.2 L675.1,765.7 L675.5,771.1 L675.8,773.5 L676.1,782.4 L676.4,789.1 L676.7,788.8 L677.0,786.4 L677.4,786.7 L677.7,784.3 L678.0,784.9 L678.4,782.1 L678.7,783.3 L679.0,781.3 L679.3,783.0 L679.7,781.5 L680.0,783.8 L680.3,783.5 L680.7,785.0 L681.0,785.2 L681.3,784.8 L681.6,783.0 L682.0,782.9 L682.3,780.7 L682.6,781.8 L682.9,779.0 L683.2,780.1 L683.6,776.7 L683.9,777.5 L684.2,776.1 L684.5,777.6 L684.9,776.3 L685.2,778.1 L685.5,776.8 L685.8,779.2 L686.1,778.1 L686.5,780.2 L686.8,780.0 L687.1,780.2 L687.4,778.3 L687.7,779.7 L688.0,777.8 L688.3,778.8 L688.6,776.6 L688.9,778.8 L689.2,776.6 L689.5,777.2 L689.8,775.9 L690.1,776.1 L690.4,774.9 L690.8,770.8 L691.1,771.7 L691.4,768.3 L691.7,768.4 L692.0,764.9 L692.3,765.6 L692.7,761.3 L693.0,762.7 L693.3,759.9 L693.6,762.9 L694.0,761.7 L694.3,764.1 L694.6,763.2 L695.0,767.3 L695.3,767.0 L695.6,767.2 L695.9,765.2 L696.3,766.7 L696.6,763.6 L696.9,765.2 L697.2,763.2 L697.6,764.4 L697.9,763.1 L698.2,764.4 L698.5,763.3 L698.8,765.8 L699.2,764.9 L699.5,767.0 L699.8,767.0 L700.1,766.2 L700.5,762.3 L700.8,762.2 L701.1,758.6 L701.4,759.7 L701.7,758.5 L702.0,761.1 L702.3,758.7 L702.6,761.5 L702.9,758.3 L703.2,761.5 L703.5,759.8 L703.8,761.5 L704.1,760.3 L704.4,761.2 L704.7,763.2 L705.0,760.9 L705.4,763.4 L705.7,761.2 L706.0,763.6 L706.3,761.3 L706.6,764.3 L707.0,762.2 L707.3,764.4 L707.6,763.2 L707.9,764.9 L708.2,763.2 L708.5,766.0 L708.9,764.5 L709.2,766.0 L709.5,765.7 L709.8,766.2 L710.1,764.5 L710.5,766.1 L710.8,764.4 L711.1,766.2 L711.5,764.1 L711.8,765.6 L712.1,763.9 L712.4,765.6 L712.8,763.9 L713.1,765.2 L713.4,764.4 L713.7,765.6 L714.0,763.8 L714.3,765.6 L714.6,763.2 L714.9,765.2 L715.2,763.3 L715.5,765.3 L715.8,763.6 L716.1,765.2 L716.4,763.4 L716.7,764.4 L717.0,764.7 L717.3,760.5 L717.7,762.9 L718.0,759.4 L718.3,759.9 L718.6,757.9 L718.9,757.5 L719.2,752.7 L719.6,752.8 L719.9,748.8 L720.2,749.1 L720.5,746.2 L720.8,748.8 L721.1,746.0 L721.4,748.8 L721.7,746.5 L722.0,747.9 L722.3,745.0 L722.7,748.2 L723.0,745.5 L723.3,747.6 L723.6,744.6 L723.9,746.8 L724.2,744.6 L724.5,746.3 L724.8,744.6 L725.1,744.9 L725.4,747.7 L725.8,744.8 L726.1,748.5 L726.4,747.6 L726.8,750.0 L727.1,750.1 L727.4,750.4 L727.7,748.2 L728.1,750.4 L728.4,748.1 L728.7,750.4 L729.0,747.2 L729.3,750.2 L729.7,747.2 L730.0,748.7 L730.3,747.5 L730.6,750.8 L731.0,751.0 L731.3,756.5 L731.6,757.9 L731.9,758.2 L732.2,756.6 L732.6,758.2 L732.9,755.6 L733.2,758.0 L733.5,754.2 L733.9,756.9 L734.2,754.7 L734.5,756.8 L734.9,753.7 L735.2,756.2 L735.5,754.0 L735.8,755.3 L736.1,753.8 L736.5,756.7 L736.8,754.2 L737.1,756.4 L737.5,754.8 L737.8,756.9 L738.1,756.6 L738.4,756.9 L738.8,754.6 L739.1,756.8 L739.4,754.0 L739.7,755.7 L740.1,753.7 L740.4,756.1 L740.7,754.0 L741.0,754.3 L741.4,751.9 L741.7,754.2 L742.0,750.9 L742.3,753.3 L742.6,750.4 L743.0,752.5 L743.3,750.1 L743.6,750.4 L743.9,746.4 L744.3,748.2 L744.6,744.0 L744.9,746.0 L745.2,742.5 L745.6,744.5 L745.9,741.0 L746.2,741.4 L746.5,738.7 L746.9,740.0 L747.2,737.2 L747.5,739.9 L747.9,736.3 L748.2,737.4 L748.5,735.8 L748.8,736.2 L749.2,731.2 L749.5,731.5 L749.8,726.9 L750.2,729.2 L750.5,725.5 L750.8,725.9 L751.1,721.4 L751.5,723.9 L751.8,719.1 L752.1,723.4 L752.4,719.0 L752.7,720.3 L753.1,716.2 L753.4,719.3 L753.7,716.4 L754.0,712.8 L754.4,706.0 L754.7,706.5 L755.0,702.9 L755.4,705.8 L755.7,701.4 L756.0,706.5 L756.3,701.4 L756.6,704.9 L757.0,700.3 L757.3,702.8 L757.6,700.8 L757.6,715.1 L757.9,715.6 L758.2,709.0 L758.6,712.6 L758.9,707.2 L759.2,710.8 L759.6,704.0 L759.9,706.9 L760.2,703.4 L760.5,707.8 L760.8,702.9 L761.2,708.5 L761.5,706.1 L761.8,710.4 L762.1,709.9 L762.4,709.4 L762.8,701.2 L763.1,705.2 L763.4,699.5 L763.8,698.1 L764.1,686.2 L764.4,688.3 L764.8,679.7 L765.1,678.4 L765.4,671.3 L765.8,675.9 L766.1,665.4 L766.4,666.1 L766.7,663.8 L767.0,654.0 L767.3,656.2 L767.6,645.0 L767.9,643.3 L768.2,641.9 L768.5,631.0 L768.8,631.4 L769.1,618.8 L769.4,617.6 L769.7,603.3 L769.9,582.9 L770.2,569.1 L770.5,596.2 L770.9,611.5 L771.2,612.0 L771.6,596.7 L771.9,602.3 L772.2,588.1 L772.5,594.3 L772.9,578.8 L773.2,579.7 L773.2,629.7 L773.5,627.1 L773.9,616.1 L774.2,619.0 L774.5,606.9 L774.8,609.9 L775.2,598.4 L775.5,597.9 L775.9,621.0 L776.2,632.7 L776.5,633.6 L776.9,625.2 L777.2,629.5 L777.5,619.6 L777.8,626.6 L778.2,615.5 L778.5,616.1 L778.9,607.8 L779.2,593.3 L779.5,567.5 L779.7,532.7 L780.0,533.6 L780.3,525.5 L780.6,533.6 L780.9,523.1 L781.2,528.4 L781.5,524.0 L781.8,519.7 L782.0,503.8 L782.3,499.7 L782.6,496.5 L782.9,486.1 L783.2,485.2 L783.5,474.1 L783.8,475.0 L784.1,465.9 L784.4,484.3 L784.8,493.9 L785.1,514.3 L785.5,523.5 L785.8,543.0 L786.1,543.8 L786.5,529.6 L786.8,533.7 L787.2,520.5 L787.5,520.5 L787.8,509.9 L788.1,489.2 L788.4,480.7 L788.7,476.8 L789.1,461.3 L789.4,462.2 L789.8,446.4 L790.1,442.5 L790.4,451.4 L790.7,451.2 L791.0,462.6 L791.3,461.7 L791.6,474.8 L791.9,477.2 L792.2,486.7 L792.6,485.8 L792.9,496.1 L793.3,492.6 L793.6,503.2 L793.9,497.0 L794.3,481.0 L794.6,480.0 L795.0,464.1 L795.3,458.1 L795.6,467.5 L795.9,462.0 L796.2,473.5 L796.5,469.5 L796.8,477.5 L797.1,478.9 L797.4,479.2 L797.8,464.9 L798.1,465.4 L798.5,454.7 L798.8,452.9 L799.1,448.5 L799.4,431.9 L799.7,428.7 L800.0,436.2 L800.4,436.4 L800.7,450.1 L801.1,444.6 L801.4,454.7 L801.7,469.6 L802.1,476.4 L802.4,495.4 L802.8,500.0 L803.1,517.1 L803.4,515.4 L803.8,499.6 L804.1,504.1 L804.4,488.8 L804.7,491.6 L805.1,475.7 L805.4,479.6 L805.7,468.5 L806.0,469.4 L806.3,459.9 L806.6,468.1 L806.9,457.2 L807.2,462.2 L807.5,458.1 L807.8,466.3 L808.2,461.8 L808.5,471.5 L808.9,465.0 L809.2,472.0 L809.5,489.8 L809.8,493.9 L810.1,513.6 L810.4,527.0 L810.6,528.5 L810.9,541.3 L811.1,590.3 L811.4,598.4 L811.7,590.9 L812.0,603.8 L812.3,599.1 L812.6,605.5 L812.9,605.3 L813.2,594.0 L813.5,598.6 L813.9,586.9 L814.2,589.4 L814.5,578.0 L814.8,578.2 L815.1,588.9 L815.4,589.6 L815.8,605.1 L816.1,601.9 L816.4,614.5 L816.7,614.0 L817.0,602.1 L817.3,603.9 L817.6,593.9 L817.9,595.0 L818.2,583.9 L818.5,588.0 L818.8,577.2 L819.1,580.7 L819.4,570.6 L819.7,584.7 L820.0,587.1 L820.3,608.7 L820.6,608.5 L820.9,625.2 L821.2,625.3 L821.5,616.4 L821.8,623.1 L822.1,613.0 L822.4,614.3 L822.7,605.5 L823.0,611.0 L823.3,598.9 L823.6,607.0 L823.9,599.4 L824.2,607.7 L824.5,601.9 L824.9,616.1 L825.2,612.4 L825.5,620.6 L825.9,616.9 L826.2,603.9 L826.5,608.2 L826.9,603.0 L827.2,610.8 L827.5,604.1 L827.8,610.9 L828.2,604.5 L828.5,610.0 L828.8,617.4 L829.1,614.5 L829.4,623.5 L829.8,620.1 L830.1,630.9 L830.4,626.2 L830.7,637.8 L831.0,637.0 L831.4,636.6 L831.7,621.4 L832.0,622.9 L832.4,613.3 L832.7,604.6 L833.0,587.1 L833.3,580.6 L833.6,562.1 L833.9,568.7 L834.2,564.8 L834.5,577.5 L834.8,573.1 L835.1,582.2 L835.4,582.4 L835.7,579.7 L836.0,559.9 L836.2,560.5 L836.5,547.9 L836.8,540.5 L837.1,528.5 L837.4,529.4 L837.8,520.8 L838.1,529.2 L838.4,516.5 L838.7,526.5 L839.1,515.9 L839.4,520.4 L839.7,516.4 L840.0,523.1 L840.4,519.8 L840.7,531.3 L841.0,528.5 L841.3,537.3 L841.6,534.0 L842.0,546.5 L842.3,545.8 L842.6,542.8 L842.9,527.3 L843.3,531.4 L843.6,518.7 L843.9,518.0 L844.2,503.0 L844.6,505.0 L844.9,495.6 L845.2,513.0 L845.5,519.2 L845.8,533.7 L846.1,534.6 L846.4,525.8 L846.8,534.1 L847.1,523.9 L847.4,529.8 L847.8,522.4 L848.1,528.7 L848.4,523.3 L848.7,538.3 L849.0,543.0 L849.3,563.6 L849.6,571.7 L849.9,572.6 L850.2,567.2 L850.5,572.6 L850.8,567.9 L851.1,572.4 L851.4,567.2 L851.7,571.4 L852.0,567.2 L852.3,571.0 L852.6,568.1 L852.9,558.6 L853.2,535.8 L853.5,531.9 L853.8,508.8 L854.1,502.6 L854.4,487.0 L854.7,485.1 L855.0,474.5 L855.3,478.9 L855.6,467.2 L855.9,471.5 L856.2,464.5 L856.5,458.9 L856.7,445.4 L857.0,440.2 L857.3,437.8 L857.6,425.4 L857.9,430.6 L858.2,418.5 L858.5,420.8 L858.8,412.5 L859.1,421.8 L859.4,422.2 L859.8,435.6 L860.1,431.7 L860.4,447.6 L860.8,444.0 L861.1,457.9 L861.4,459.3 L861.7,452.9 L861.9,438.8 L862.2,431.6 L862.5,432.5 L862.8,420.7 L863.1,426.4 L863.4,414.9 L863.7,423.0 L864.0,411.9 L864.3,416.5 L864.6,403.6 L864.9,410.6 L865.2,403.9 L865.6,420.1 L865.9,421.8 L866.2,438.5 L866.6,445.4 L866.9,454.4 L867.3,451.0 L867.6,461.0 L868.0,456.6 L868.3,466.2 L868.6,467.1 L869.0,455.5 L869.3,460.7 L869.7,452.6 L870.0,452.3 L870.3,459.7 L870.6,457.8 L870.9,470.3 L871.2,465.5 L871.5,476.7 L871.8,476.6 L872.1,477.5 L872.5,469.8 L872.8,475.9 L873.2,468.8 L873.5,469.7 L873.8,480.1 L874.2,484.0 L874.5,499.9 L874.9,499.6 L875.2,511.2 L875.5,517.8 L875.8,516.1 L876.1,525.4 L876.4,523.4 L876.7,531.9 L877.0,533.7 L877.3,534.6 L877.6,524.0 L877.9,526.4 L878.2,515.9 L878.6,519.6 L878.9,511.3 L879.2,516.3 L879.5,507.7 L879.8,508.6 L880.0,505.6 L880.3,508.6 L880.6,506.5 L881.0,524.7 L881.3,532.5 L881.6,533.3 L882.0,526.0 L882.3,532.5 L882.6,526.0 L882.9,538.8 L883.2,539.0 L883.6,556.9 L883.9,563.6 L884.2,564.5 L884.5,554.9 L884.8,559.3 L885.2,550.4 L885.5,554.1 L885.8,549.4 L886.1,561.2 L886.5,560.6 L886.8,576.1 L887.1,577.6 L887.4,588.4 L887.7,587.4 L888.0,600.1 L888.3,603.8 L888.6,599.5 L888.9,583.9 L889.2,583.4 L889.5,569.3 L889.8,574.5 L890.1,571.1 L890.4,577.9 L890.7,585.3 L891.0,581.5 L891.3,592.8 L891.6,587.6 L891.9,594.3 L892.2,587.6 L892.5,567.7 L892.7,563.7 L893.0,549.4 L893.3,550.3 L893.6,546.3 L894.0,550.3 L894.3,544.6 L894.6,550.1 L895.0,544.6 L895.3,548.2 L895.6,545.5 L895.9,561.0 L896.2,564.9 L896.6,583.5 L896.9,590.9 L897.2,593.1 L897.5,590.0 L897.9,593.1 L898.2,590.0 L898.5,593.1 L898.9,590.0 L899.2,593.1 L899.5,592.2 L899.8,573.0 L900.1,546.8 L900.4,548.3 L900.8,545.3 L901.1,548.3 L901.4,546.8 L901.7,561.6 L902.0,563.2 L902.4,578.0 L902.7,584.4 L903.0,586.8 L903.4,583.5 L903.7,587.9 L904.0,583.5 L904.4,587.9 L904.7,587.0 L905.0,585.4 L905.4,569.9 L905.7,571.3 L906.0,562.3 L906.3,568.4 L906.6,561.4 L907.0,568.4 L907.3,563.2 L907.6,568.4 L907.9,567.5 L907.9,531.2 L908.2,532.1 L908.6,527.0 L908.9,532.1 L909.2,527.0 L909.6,530.4 L909.9,527.9 L910.2,535.8 L910.5,536.0 L910.9,547.1 L911.2,549.4 L911.5,548.9 L911.9,539.6 L912.2,540.8 L912.5,533.8 L912.8,543.5 L913.1,541.6 L913.5,554.7 L913.8,554.5 L913.8,576.6 L914.1,577.5 L914.4,568.9 L914.8,575.1 L915.1,567.1 L915.4,574.0 L915.8,564.6 L916.1,568.2 L916.4,564.9 L916.7,575.4 L917.0,570.2 L917.4,583.5 L917.7,585.7 L918.0,584.4 L918.4,573.8 L918.7,580.3 L919.0,572.7 L919.3,580.2 L919.6,580.8 L920.0,591.3 L920.3,589.4 L920.6,600.0 L921.0,623.8 L921.3,642.2 L921.6,643.0 L921.9,634.6 L922.2,639.5 L922.5,631.6 L922.9,637.6 L923.2,628.1 L923.5,636.3 L923.8,627.2 L924.1,628.1 L924.4,633.0 L924.7,628.3 L925.0,639.9 L925.3,634.2 L925.6,642.2 L925.9,645.8 L926.2,641.4 L926.5,645.8 L926.8,641.4 L927.2,645.8 L927.5,642.3 L927.8,645.8 L928.1,641.5 L928.4,645.0 L928.8,638.1 L929.1,623.9 L929.4,629.0 L929.7,623.0 L930.0,629.0 L930.3,623.8 L930.7,629.0 L931.0,623.0 L931.3,629.0 L931.6,623.7 L931.9,628.1 L932.2,644.1 L932.6,649.3 L933.0,670.3 L933.3,684.4 L933.6,692.0 L934.0,692.4 L934.4,700.4 L934.7,704.1 L935.0,704.2 L935.3,698.2 L935.6,700.1 L935.9,694.7 L936.3,696.3 L936.6,689.8 L936.9,694.0 L937.2,687.3 L937.5,687.3 L937.8,691.4 L938.1,689.1 L938.4,696.2 L938.7,692.5 L939.0,700.3 L939.3,698.7 L939.6,702.7 L940.0,701.5 L940.3,692.0 L940.6,691.7 L941.0,684.4 L941.4,691.1 L941.7,690.2 L942.0,700.7 L942.4,702.7 L942.8,699.2 L943.1,687.7 L943.4,685.9 L943.8,676.0 L944.1,680.7 L944.4,676.5 L944.8,684.2 L945.1,678.6 L945.4,685.4 L945.7,683.3 L946.1,689.2 L946.4,686.8 L946.7,690.1 L947.0,683.1 L947.4,673.2 L947.7,676.0 L948.0,672.5 L948.3,678.5 L948.6,673.0 L949.0,678.0 L949.3,674.6 L949.6,679.4 L949.9,675.8 L950.2,678.8 L950.5,679.4 L950.8,674.9 L951.1,676.5 L951.4,669.7 L951.7,676.5 L952.0,670.0 L952.3,670.4 L952.6,676.1 L953.0,670.3 L953.4,679.5 L953.7,678.8 L954.1,683.2 L954.4,681.8 L954.8,689.7 L955.1,690.1 L955.5,693.9 L955.8,691.7 L956.1,697.5 L956.5,698.5 L956.8,702.8 L957.1,698.0 L957.4,703.6 L957.7,698.3 L958.0,704.6 L958.3,701.6 L958.6,704.1 L958.9,702.8 L959.2,696.6 L959.5,696.3 L959.8,688.8 L960.1,692.6 L960.4,684.0 L960.7,683.0 L961.1,688.6 L961.4,687.8 L961.8,698.0 L962.1,698.5 L962.4,703.5 L962.7,700.1 L963.0,706.1 L963.3,701.6 L963.6,706.2 L963.9,706.7 L964.2,702.9 L964.5,705.6 L964.8,700.3 L965.2,704.6 L965.5,700.0 L965.8,703.8 L966.1,699.4 L966.4,699.9 L966.7,700.4 L967.0,697.0 L967.3,699.3 L967.6,695.1 L967.9,699.7 L968.2,695.1 L968.5,695.7 L968.8,699.7 L969.1,695.1 L969.4,702.2 L969.7,697.3 L970.0,703.1 L970.3,700.2 L970.6,702.7 L970.9,704.2 L971.2,701.2 L971.6,704.0 L971.9,701.2 L972.2,704.2 L972.5,701.2 L972.8,704.2 L973.1,701.4 L973.5,703.9 L973.8,701.2 L974.1,702.7 L974.5,701.8 L974.8,694.8 L975.1,696.5 L975.5,692.9 L975.8,693.5 L976.1,689.5 L976.4,693.5 L976.7,689.5 L977.1,693.3 L977.4,689.5 L977.7,693.3 L978.0,689.5 L978.3,690.1 L978.6,701.9 L979.0,709.8 L979.4,718.7 L979.7,723.8 L980.0,724.6 L980.3,721.6 L980.6,724.6 L980.9,722.0 L981.3,724.5 L981.6,721.6 L981.9,724.6 L982.2,721.6 L982.5,722.4 L982.8,722.8 L983.1,720.1 L983.5,722.1 L983.8,718.0 L984.1,722.3 L984.4,716.3 L984.8,720.9 L985.1,716.3 L985.4,716.8 L985.7,717.3 L986.0,713.9 L986.3,717.3 L986.6,714.5 L987.0,717.3 L987.3,713.5 L987.6,716.3 L987.9,713.5 L988.2,714.0 L988.5,714.5 L988.8,711.1 L989.1,714.5 L989.4,710.7 L989.7,713.8 L990.0,710.7 L990.3,711.2 L990.6,714.0 L991.0,713.3 L991.4,718.7 L991.7,718.2 L992.0,719.7 L992.3,717.1 L992.7,719.7 L993.0,716.7 L993.3,719.7 L993.6,716.7 L993.9,719.7 L994.2,716.7 L994.6,719.7 L994.9,717.0 L995.2,718.2 L995.5,718.7 L995.8,714.9 L996.1,718.7 L996.4,715.8 L996.8,718.7 L997.1,714.9 L997.4,717.2 L997.7,714.9 L998.0,715.4 L998.3,712.1 L998.6,703.4 L998.9,703.2 L999.2,694.1 L999.5,690.9 L999.8,691.5 L1000.2,685.9 L1000.5,688.4 L1000.8,681.0 L1001.2,683.7 L1001.5,680.5 L1001.8,681.1 L1002.1,677.8 L1002.5,681.1 L1002.8,674.3 L1003.1,680.6 L1003.4,674.0 L1003.7,680.1 L1004.1,674.2 L1004.4,679.6 L1004.7,674.7 L1005.0,678.6 L1005.4,674.1 L1005.7,678.6 L1006.0,674.3 L1006.4,678.5 L1006.7,677.9 L1007.0,683.6 L1007.3,678.0 L1007.7,686.0 L1008.0,682.3 L1008.3,687.6 L1008.6,687.0 L1008.9,686.1 L1009.2,680.5 L1009.6,682.6 L1009.9,676.6 L1010.2,678.8 L1010.6,671.4 L1010.9,673.4 L1011.2,668.8 L1011.5,673.3 L1011.9,668.1 L1012.2,674.7 L1012.5,669.0 L1012.9,674.7 L1013.2,674.0 L1013.5,678.1 L1013.8,673.3 L1014.2,681.1 L1014.5,676.5 L1014.8,681.1 L1015.1,680.5 L1015.4,685.3 L1015.8,682.3 L1016.1,691.4 L1016.4,687.5 L1016.8,695.0 L1017.1,696.1 L1017.4,692.5 L1017.8,681.0 L1018.1,682.7 L1018.4,672.7 L1018.7,666.1 L1019.0,651.9 L1019.3,652.7 L1019.6,646.9 L1020.0,651.9 L1020.3,646.0 L1020.6,652.7 L1021.0,646.1 L1021.3,652.4 L1021.6,646.8 L1021.9,652.1 L1022.2,646.9 L1022.6,652.7 L1022.9,651.9 L1023.2,652.7 L1023.5,647.3 L1023.9,652.7 L1024.2,648.0 L1024.5,651.1 L1024.8,647.3 L1025.2,652.7 L1025.5,648.1 L1025.8,648.0 L1026.2,639.7 L1026.5,643.7 L1026.8,634.3 L1027.2,639.3 L1027.5,633.8 L1027.8,636.0 L1028.2,633.0 L1028.5,636.0 L1028.8,633.0 L1029.1,636.0 L1029.4,633.0 L1029.8,636.0 L1030.1,635.1 L1030.4,646.4 L1030.7,651.9 L1031.0,651.7 L1031.3,644.0 L1031.7,650.0 L1032.0,642.9 L1032.3,643.7 L1032.7,640.2 L1033.0,643.7 L1033.3,638.2 L1033.6,643.7 L1033.9,638.2 L1034.3,642.9 L1034.6,639.0 L1034.9,644.8 L1035.2,641.4 L1035.6,652.6 L1035.9,653.2 L1036.2,657.9 L1036.5,652.4 L1036.8,656.0 L1037.1,652.4 L1037.4,657.2 L1037.7,652.5 L1038.0,657.8 L1038.3,654.4 L1038.6,657.8 L1038.9,654.0 L1039.2,657.1 L1039.5,657.8 L1039.8,651.3 L1040.2,656.6 L1040.5,649.8 L1040.8,653.0 L1041.2,647.3 L1041.5,652.0 L1041.8,648.1 L1042.1,651.2 L1042.4,647.9 L1042.8,657.6 L1043.1,652.4 L1043.4,657.6 L1043.7,657.1 L1044.0,661.7 L1044.3,656.4 L1044.6,662.0 L1044.9,657.3 L1045.2,663.6 L1045.5,658.7 L1045.8,666.1 L1046.1,659.1 L1046.4,666.9 L1046.7,663.9 L1047.0,666.2 L1047.3,661.2 L1047.6,645.0 L1047.9,645.9 L1048.2,632.5 L1048.5,633.4 L1048.8,630.3 L1049.2,633.4 L1049.5,630.3 L1049.8,633.4 L1050.2,630.3 L1050.5,633.4 L1050.8,631.2 L1051.1,634.7 L1051.5,630.3 L1051.8,634.7 L1052.1,630.4 L1052.5,634.6 L1052.8,633.8 L1053.1,634.6 L1053.4,628.3 L1053.8,634.7 L1054.1,627.3 L1054.4,633.9 L1054.7,627.9 L1055.0,632.3 L1055.4,626.4 L1055.7,633.7 L1056.0,627.3 L1056.3,632.6 L1056.7,627.4 L1057.0,634.7 L1057.3,633.8 L1057.6,637.5 L1058.0,633.0 L1058.3,639.2 L1058.6,636.5 L1059.0,641.1 L1059.3,640.3 L1059.6,641.8 L1059.9,638.8 L1060.3,641.8 L1060.6,638.8 L1060.9,641.8 L1061.2,638.8 L1061.5,641.8 L1061.9,638.8 L1062.2,641.8 L1062.5,640.3 L1062.8,641.1 L1063.2,636.9 L1063.5,641.1 L1063.8,636.9 L1064.1,641.1 L1064.4,636.9 L1064.8,640.4 L1065.1,637.7 L1065.4,642.2 L1065.8,636.9 L1066.1,642.4 L1066.4,636.9 L1066.8,642.4 L1067.1,641.6 L1067.4,655.3 L1067.7,659.7 L1068.0,660.3 L1068.3,654.3 L1068.7,660.4 L1069.0,652.7 L1069.3,656.4 L1069.7,651.3 L1070.0,653.9 L1070.3,650.6 L1070.6,654.4 L1071.0,649.8 L1071.3,656.8 L1071.6,652.9 L1071.9,659.3 L1072.2,654.9 L1072.6,661.7 L1072.9,661.0 L1073.2,665.5 L1073.6,660.6 L1073.9,666.9 L1074.2,660.3 L1074.6,666.9 L1074.9,666.2 L1075.2,666.1 L1075.5,658.6 L1075.8,665.4 L1076.2,656.6 L1076.5,659.5 L1076.8,655.8 L1077.1,658.2 L1077.4,655.1 L1077.7,659.1 L1078.0,655.1 L1078.3,659.1 L1078.6,655.1 L1078.9,659.1 L1079.2,655.1 L1079.5,659.1 L1079.8,655.3 L1080.1,658.4 L1080.4,659.1 L1080.8,651.2 L1081.1,653.4 L1081.4,649.4 L1081.7,650.9 L1082.0,647.9 L1082.4,650.9 L1082.7,647.9 L1083.0,650.9 L1083.3,647.9 L1083.6,650.9 L1084.0,647.9 L1084.3,650.9 L1084.6,649.4 L1084.9,655.3 L1085.2,648.6 L1085.6,655.3 L1085.9,654.5 L1086.2,652.7 L1086.6,643.6 L1086.9,648.2 L1087.2,640.3 L1087.6,632.9 L1087.9,619.5 L1088.2,617.6 L1088.5,608.9 L1088.8,607.3 L1089.1,608.2 L1089.4,601.1 L1089.7,607.6 L1090.0,600.3 L1090.3,607.8 L1090.6,600.3 L1090.9,607.3 L1091.2,600.3 L1091.5,606.4 L1091.8,601.2 L1092.1,602.1 L1092.4,593.2 L1092.7,598.9 L1093.0,588.6 L1093.3,589.1 L1093.6,590.0 L1094.0,585.2 L1094.3,590.0 L1094.6,585.2 L1094.9,590.0 L1095.3,585.2 L1095.6,586.1 L1095.9,592.2 L1096.2,588.0 L1096.5,597.4 L1096.8,590.0 L1097.1,598.2 L1097.4,599.1 L1097.8,594.2 L1098.1,598.7 L1098.4,589.7 L1098.7,597.8 L1099.1,589.7 L1099.4,590.6 L1099.7,591.5 L1100.0,580.0 L1100.3,583.8 L1100.6,572.7 L1100.9,570.9 L1101.2,565.3 L1101.4,553.4 L1101.7,548.2 L1102.0,550.5 L1102.3,547.3 L1102.6,550.6 L1103.0,547.3 L1103.3,550.6 L1103.6,547.3 L1103.9,549.7 L1104.2,557.7 L1104.4,558.3 L1104.7,566.4 L1105.0,567.3 L1105.3,554.0 L1105.6,558.9 L1105.9,551.1 L1106.2,549.7 L1106.5,556.0 L1106.8,549.3 L1107.1,559.3 L1107.4,550.6 L1107.7,560.2 L1108.0,553.7 L1108.3,562.7 L1108.6,555.6 L1108.9,562.7 L1109.2,561.8 L1109.2,543.6 L1109.5,544.5 L1109.8,538.7 L1110.1,544.4 L1110.4,536.1 L1110.8,541.4 L1111.1,532.0 L1111.4,539.6 L1111.7,530.8 L1112.0,531.5 L1112.3,546.3 L1112.7,549.2 L1113.0,563.3 L1113.3,564.2 L1113.6,553.3 L1113.9,561.4 L1114.2,552.1 L1114.5,552.7 L1114.8,560.4 L1115.1,559.5 L1115.5,570.9 L1115.8,569.4 L1116.1,577.0 L1116.4,575.1 L1116.7,562.9 L1117.0,567.8 L1117.3,555.7 L1117.6,554.2 L1117.9,558.2 L1118.2,553.3 L1118.5,558.2 L1118.8,553.3 L1119.1,558.2 L1119.4,553.3 L1119.7,558.2 L1120.0,553.3 L1120.3,558.2 L1120.6,557.3 L1120.9,555.4 L1121.2,544.4 L1121.5,546.6 L1121.8,532.3 L1122.1,533.0 L1122.4,527.9 L1122.6,513.2 L1122.9,510.3 L1123.2,511.2 L1123.5,502.4 L1123.8,508.2 L1124.1,498.8 L1124.4,499.7 L1124.7,500.6 L1125.0,496.1 L1125.2,500.6 L1125.5,497.0 L1125.8,493.1 L1126.0,473.6 L1126.3,470.0 L1126.7,457.6 L1127.0,440.0 L1127.3,438.8 L1127.5,420.7 L1127.8,420.0 L1128.2,413.3 L1128.5,400.6 L1128.8,409.0 L1129.0,411.3 L1129.3,420.0 L1129.7,415.9 L1130.0,400.0 L1130.3,396.8 L1130.5,384.4 L1130.8,385.0 L1131.2,382.4 L1131.5,375.0 L1131.8,375.9 L1132.0,369.9 L1132.3,370.6 L1132.5,382.8 L1132.8,390.0 L1133.0,412.2 L1133.3,425.0 L1133.7,419.7 L1134.0,410.0 L1134.3,426.7 L1134.7,437.0 L1135.0,431.7 L1135.3,415.0 L1135.7,409.8 L1136.0,395.0 L1136.3,395.9 L1136.5,384.1 L1136.8,385.0 L1137.2,385.4 L1137.5,382.0 L1137.8,393.8 L1138.2,400.0 L1138.5,413.6 L1138.8,417.0 L1139.2,410.7 L1139.5,395.0 L1139.8,392.0 L1140.0,381.1 L1140.3,380.0 L1140.7,390.3 L1141.0,395.0 L1141.3,403.6 L1141.5,402.8 L1141.8,410.0 L1142.2,419.4 L1142.5,425.0 L1142.8,435.9 L1143.2,435.0 L1143.5,440.5 L1143.7,434.2 L1144.0,442.0 L1144.3,440.3 L1144.5,430.2 L1144.8,430.0 L1145.2,426.4 L1145.5,418.0 L1145.8,417.0 L1146.2,408.9 L1146.5,422.0 L1146.8,430.0 L1147.2,447.2 L1147.5,455.0 L1147.9,460.7 L1148.2,455.3 L1148.6,445.0 L1148.9,443.4 L1149.3,432.0 L1149.7,439.9 L1150.0,440.0 L1150.3,444.3 L1150.5,440.7 L1150.8,446.0 L1151.2,441.9 L1151.5,430.0 L1151.8,423.2 L1152.2,405.0 L1152.5,403.3 L1152.7,392.3 L1153.0,390.0 L1153.3,390.9 L1153.6,380.0 L1153.9,380.9 L1154.2,392.8 L1154.6,395.0 L1154.9,402.9 L1155.3,405.0 L1155.7,405.0 L1156.0,400.0 L1156.3,406.2 L1156.5,404.6 L1156.8,410.0 L1157.2,404.5 L1157.5,395.0 L1157.8,393.9 L1158.2,385.0 L1158.5,385.9 L1158.8,382.4 L1159.2,390.3 L1159.5,390.0 L1159.8,390.9 L1160.0,383.5 L1160.3,383.0 L1160.7,390.9 L1161.0,390.0 L1161.3,397.2 L1161.5,391.2 L1161.8,398.0 L1162.2,398.9 L1162.5,395.0 L1162.8,404.7 L1163.0,399.1 L1163.3,410.0 L1163.6,427.8 L1164.0,429.9 L1164.3,447.0 L1164.7,439.5 L1165.0,425.0 L1165.2,433.1 L1165.5,435.0 L1165.8,435.9 L1166.2,433.0 L1166.5,442.9 L1166.7,437.6 L1167.0,445.0 L1167.3,453.4 L1167.5,451.5 L1167.8,460.0 L1168.1,467.7 L1168.4,464.7 L1168.7,476.0 L1169.1,469.8 L1169.4,460.0 L1169.7,457.9 L1170.0,447.0 L1170.3,447.0 L1170.5,432.8 L1170.8,430.0 L1171.2,428.4 L1171.5,418.0 L1171.8,417.4 L1172.2,410.0 L1172.5,410.5 L1172.7,402.7 L1173.0,403.0 L1173.3,403.9 L1173.7,400.1 L1174.0,401.0 L1174.3,402.4 L1174.6,399.4 L1174.9,402.4 L1175.2,400.7 L1175.5,408.5 L1175.7,403.7 L1176.0,410.0 L1176.3,417.8 L1176.5,412.6 L1176.8,420.0 L1177.0,435.6 L1177.3,445.0 L1177.5,471.9 L1177.8,487.0 L1178.2,480.3 L1178.5,470.0 L1178.8,469.9 L1179.0,454.6 L1179.3,455.0 L1179.7,451.4 L1180.0,440.0 L1180.3,447.6 L1180.5,440.7 L1180.8,450.0 L1181.2,458.8 L1181.5,462.0 L1181.8,460.8 L1182.0,445.7 L1182.3,445.0 L1182.6,443.4 L1182.9,430.2 L1183.2,430.0 L1183.6,430.9 L1183.9,425.7 L1184.2,436.9 L1184.5,440.0 L1184.8,449.4 L1185.2,450.0 L1185.5,458.0 L1185.7,453.5 L1186.0,460.0 L1186.3,467.8 L1186.5,462.6 L1186.8,470.0 L1187.2,477.7 L1187.5,480.0 L1187.8,487.9 L1188.0,487.0 L1188.3,481.4 L1188.7,470.0 L1189.0,470.6 L1189.2,456.2 L1189.5,455.0 L1189.8,454.8 L1190.2,445.0 L1190.5,450.7 L1190.7,444.5 L1191.0,450.0 L1191.3,449.4 L1191.5,440.9 L1191.8,440.0 L1192.2,440.9 L1192.5,432.0 L1192.8,432.9 L1193.0,424.1 L1193.3,425.0 L1193.7,425.5 L1194.0,418.0 L1194.3,418.9 L1194.6,415.5 L1194.9,423.1 L1195.3,425.0 L1195.7,435.0 L1196.0,440.0 L1196.3,447.9 L1196.5,441.6 L1196.8,448.0 L1197.2,448.5 L1197.5,440.0 L1197.8,445.9 L1198.0,439.1 L1198.3,445.0 L1198.7,442.9 L1199.0,430.0 L1199.3,428.0 L1199.5,418.6 L1199.8,418.0 L1200.1,416.2 L1200.4,398.5 L1200.7,396.6 L1201.0,405.6 L1201.3,410.0 L1201.7,413.9 L1202.0,413.0 L1202.3,411.5 L1202.5,402.1 L1202.8,400.0 L1203.2,395.8 L1203.5,385.0 L1203.8,383.8 L1204.1,372.3 L1204.4,385.1 L1204.8,390.0 L1205.2,395.9 L1205.5,395.0 L1205.8,399.7 L1206.2,400.0 L1206.5,393.5 L1206.8,380.0 L1207.0,370.6 L1207.3,349.3 L1207.5,339.4 L1207.8,320.0 L1208.2,290.0 L1208.5,283.7 L1208.7,270.0 L1209.0,268.8 L1209.2,254.8 L1209.5,255.0 L1209.8,255.0 L1210.0,242.6 L1210.3,240.0 L1210.6,239.7 L1210.9,226.7 L1211.2,225.0 L1211.5,222.5 L1211.7,212.0 L1212.0,228.8 L1212.3,240.0 L1212.7,250.2 L1213.0,253.7 L1213.3,250.7 L1213.5,237.8 L1213.8,235.0 L1214.2,228.4 L1214.5,218.0 L1214.8,216.3 L1215.0,205.1 L1215.3,205.0 L1215.6,204.5 L1216.0,197.4 L1216.3,197.4 L1216.7,218.0 L1217.0,229.0 L1217.3,227.3 L1217.5,216.5 L1217.8,215.0 L1218.2,205.3 L1218.5,190.0 L1218.8,187.9 L1219.0,173.0 L1219.3,167.8 L1219.7,180.9 L1220.0,185.0 L1220.2,205.4 L1220.5,215.0 L1220.8,229.1 L1221.2,238.0 L1221.5,245.6 L1221.7,240.9 L1222.0,250.0 L1222.3,240.6 L1222.5,219.1 L1222.8,208.7 L1223.2,228.8 L1223.5,245.0 L1223.8,242.0 L1224.0,228.3 L1224.3,225.0 L1224.6,218.6 L1224.9,199.5 L1225.2,191.3 L1225.5,224.2 L1225.7,250.0 L1226.0,250.9 L1226.2,239.1 L1226.5,240.0 L1226.8,234.9 L1227.0,219.9 L1227.3,215.0 L1227.7,236.7 L1228.0,250.0 L1228.3,239.0 L1228.5,214.1 L1228.8,200.0 L1229.2,198.4 L1229.5,185.0 L1229.8,184.8 L1230.2,175.0 L1230.5,174.2 L1230.7,166.7 L1231.0,182.9 L1231.3,190.0 L1231.5,204.7 L1231.8,213.0 L1232.2,206.1 L1232.5,195.0 L1232.8,193.6 L1233.0,178.9 L1233.3,176.0 L1233.6,177.2 L1233.8,174.2 L1234.1,175.4 L1234.4,193.3 L1234.8,200.0 L1235.2,221.0 L1235.5,232.0 L1235.8,222.9 L1236.2,210.0 L1236.5,207.5 L1236.8,196.5 L1237.2,209.5 L1237.5,215.0 L1237.8,224.4 L1238.0,221.0 L1238.3,232.0 L1238.7,230.5 L1239.0,222.0 L1239.3,222.9 L1239.5,213.9 L1239.8,220.2 L1240.1,214.8 L1240.3,228.8 L1240.6,235.0 L1241.0,240.0 L1241.2,258.9 L1241.5,270.0 L1241.8,291.8 L1242.0,303.0 L1242.3,303.3 L1242.5,289.4 L1242.8,290.0 L1243.2,290.9 L1243.5,285.0 L1243.8,292.0 L1244.0,290.3 L1244.3,300.0 L1244.7,314.1 L1245.0,320.0 L1245.2,332.0 L1245.5,334.0 L1245.8,327.0 L1246.2,310.0 L1246.5,305.6 L1246.7,293.9 L1247.0,290.0 L1247.2,288.6 L1247.5,283.0 L1247.8,294.2 L1248.2,295.0 L1248.5,293.9 L1248.7,286.2 L1249.0,285.0 L1249.3,285.9 L1249.7,282.1 L1250.0,283.0 L1250.3,290.7 L1250.5,289.7 L1250.8,300.0 L1251.2,310.8 L1251.5,312.0 L1251.8,311.8 L1252.0,302.0 L1252.3,300.0 L1252.6,300.9 L1252.9,296.1 L1253.2,300.9 L1253.5,297.0 L1253.8,298.0 L1254.1,295.0 L1254.4,298.0 L1254.7,295.0 L1255.0,296.0 L1255.3,320.0 L1255.3,349.7" fill="none" stroke="#c00000" stroke-width="4.5" stroke-linejoin="round" stroke-linecap="round"/><path d="M82.0,473.5 L83.8,473.6 L95.0,475.9 L105.0,474.6 L117.5,473.6 L130.0,472.0 L142.5,471.1 L155.0,470.5 L167.5,470.9 L172.5,472.0 L186.2,471.1 L198.8,470.9 L217.5,472.0 L230.0,469.9 L240.0,469.2 L252.5,467.5 L271.2,467.5 L283.8,466.2 L296.2,465.2 L311.2,464.4 L321.2,462.5 L333.8,461.9 L346.2,462.1 L358.8,461.9 L371.2,462.1 L377.5,461.9 L390.0,459.6 L397.5,458.0 L400.0,458.5 L412.5,457.9 L425.0,457.2 L437.5,454.4 L450.0,453.8 L462.5,452.9 L475.0,452.1 L487.5,451.6 L500.0,451.0 L512.5,450.0 L522.5,449.0 L537.5,449.4 L550.0,449.4 L560.0,447.8 L576.2,445.0 L603.8,445.6 L607.5,444.6 L622.5,444.1 L635.0,442.5 L653.8,440.4 L663.8,440.0 L672.5,439.4 L682.5,441.0 L691.2,444.4 L701.2,444.6 L710.0,442.5 L720.0,440.2 L738.8,438.1 L757.5,437.5 L767.5,435.2 L776.2,435.0 L788.8,432.2 L801.2,429.4 L815.0,426.2 L823.8,422.5 L838.8,420.0 L851.2,418.1 L860.0,415.8 L872.5,410.6 L885.0,406.9 L897.5,403.1 L910.0,398.1 L920.0,396.5 L928.8,393.1 L938.1,386.9 L947.5,387.5 L957.5,387.5 L966.2,385.6 L977.5,382.8 L987.5,381.5 L995.0,381.5 L1006.2,378.8 L1013.8,377.5 L1020.0,377.2 L1032.5,375.4 L1042.5,375.0 L1051.2,373.8 L1061.2,373.8 L1070.0,371.2 L1082.5,368.8 L1098.8,368.1 L1113.8,365.6 L1126.2,363.1 L1138.8,361.2 L1147.5,360.1 L1160.9,360.6 L1175.4,360.1 L1186.7,358.6 L1202.2,356.5 L1217.7,354.4 L1228.0,352.4 L1238.3,350.3 L1243.4,350.1 L1251.8,350.6" fill="none" stroke="#0070c0" stroke-width="4.5" stroke-linejoin="round" stroke-linecap="round"/></g><text x="640.2" y="45.9" text-anchor="middle" letter-spacing="-0.3" font-family="Liberation Serif" font-weight="bold" font-size="34.5" fill="#000">BTC Price vs. CPI Adjusted BTC Price</text><text x="92.6" y="144.1" font-family="Liberation Serif" font-size="28.2" fill="#ff0000">Benchmark: April 2021</text><line x1="430.5" y1="891" x2="468.8" y2="891" stroke="#c00000" stroke-width="4.5" stroke-linecap="round"/><text x="475.4" y="898" letter-spacing="0.42" font-family="Liberation Serif" font-size="22" fill="#000">BTC Price</text><line x1="579.2" y1="891" x2="616.6" y2="891" stroke="#0070c0" stroke-width="4.5" stroke-linecap="round"/><text x="624.2" y="898" letter-spacing="0.22" font-family="Liberation Serif" font-size="22" fill="#000">CPI Adjusted BTC Pcice</text></svg>
<div class="frame"></div>
</body></html>
